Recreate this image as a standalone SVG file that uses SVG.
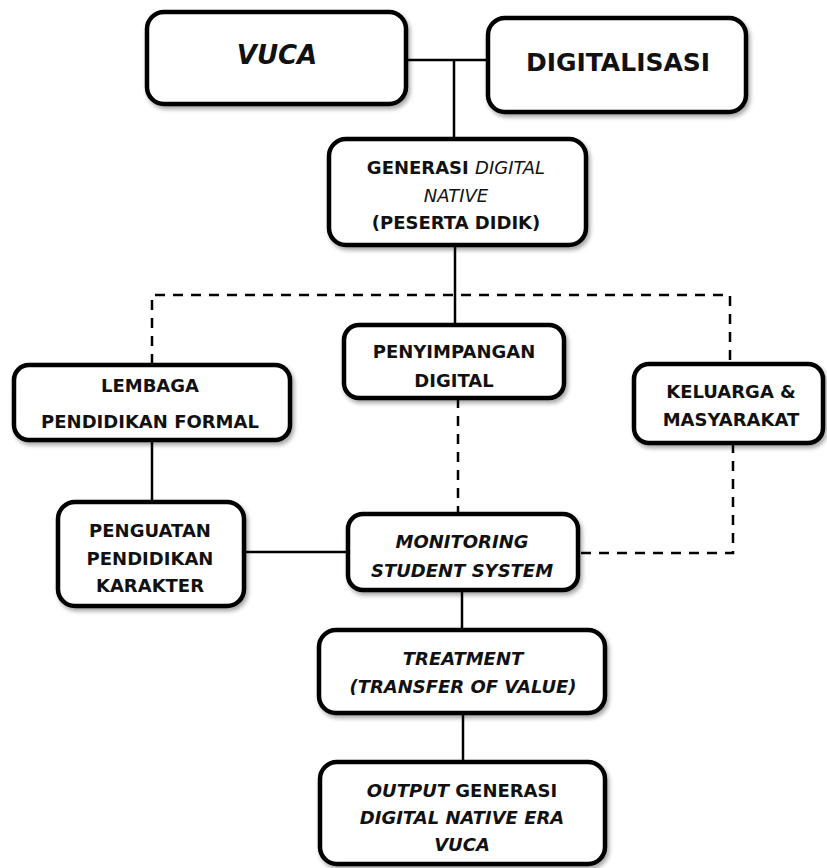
<svg xmlns="http://www.w3.org/2000/svg" width="827" height="868" viewBox="0 0 827 868">
<defs>
<filter id="sh" x="-10%" y="-10%" width="120%" height="130%">
<feDropShadow dx="2" dy="3" stdDeviation="2" flood-color="#000" flood-opacity="0.35"/>
</filter>
</defs>
<style>
.box{fill:#fff;stroke:#000;stroke-width:4.5;filter:url(#sh)}
.t{font-family:"DejaVu Sans",sans-serif;font-weight:bold;font-size:18px;text-anchor:middle;fill:#111}
.big{font-size:25px}
.v{font-size:26px}
.i{font-style:italic}
.n{font-weight:normal}
.solid{fill:none;stroke:#000;stroke-width:2.5}
.dash{fill:none;stroke:#000;stroke-width:2.5;stroke-dasharray:10 8}
</style>
<g id="connectors">
<path class="solid" d="M406 60 H488 M454 60 V139"/>
<path class="solid" d="M455 245 V325"/>
<path class="dash" d="M152 364 V295 H730 V363"/>
<path class="dash" d="M458 398 V514"/>
<path class="dash" d="M733 443 V553 H578"/>
<path class="solid" d="M152 440 V502"/>
<path class="solid" d="M244 552 H348"/>
<path class="solid" d="M462 590 V630"/>
<path class="solid" d="M463 713 V762"/>
</g>
<g id="vuca">
<rect class="box" x="147" y="12" width="259" height="92" rx="17"/>
<text class="t v i" x="277" y="64">VUCA</text>
</g>
<g id="digitalisasi">
<rect class="box" x="488" y="18" width="258" height="94" rx="17"/>
<text class="t big" x="618" y="71">DIGITALISASI</text>
</g>
<g id="generasi">
<rect class="box" x="329" y="139" width="257" height="106" rx="17"/>
<text class="t" x="456" y="174">GENERASI <tspan class="i n">DIGITAL</tspan></text>
<text class="t i n" x="456" y="202">NATIVE</text>
<text class="t" x="456" y="229">(PESERTA DIDIK)</text>
</g>
<g id="penyimpangan">
<rect class="box" x="344" y="325" width="220" height="73" rx="15"/>
<text class="t" x="454" y="358">PENYIMPANGAN</text>
<text class="t" x="454" y="387">DIGITAL</text>
</g>
<g id="lembaga">
<rect class="box" x="14" y="365" width="276" height="75" rx="15"/>
<text class="t" x="150" y="392">LEMBAGA</text>
<text class="t" x="150" y="428">PENDIDIKAN FORMAL</text>
</g>
<g id="keluarga">
<rect class="box" x="634" y="364" width="189" height="79" rx="15"/>
<text class="t" x="731" y="398">KELUARGA &amp;</text>
<text class="t" x="731" y="426">MASYARAKAT</text>
</g>
<g id="penguatan">
<rect class="box" x="58" y="502" width="186" height="104" rx="17"/>
<text class="t" x="150" y="537">PENGUATAN</text>
<text class="t" x="150" y="565">PENDIDIKAN</text>
<text class="t" x="150" y="592">KARAKTER</text>
</g>
<g id="monitoring">
<rect class="box" x="348" y="514" width="230" height="76" rx="15"/>
<text class="t i" x="462" y="548">MONITORING</text>
<text class="t i" x="462" y="577">STUDENT SYSTEM</text>
</g>
<g id="treatment">
<rect class="box" x="319" y="630" width="286" height="83" rx="17"/>
<text class="t i" x="463" y="665">TREATMENT</text>
<text class="t i" x="463" y="693">(TRANSFER OF VALUE)</text>
</g>
<g id="output">
<rect class="box" x="320" y="762" width="285" height="102" rx="17"/>
<text class="t" x="462" y="797"><tspan class="i">OUTPUT</tspan> GENERASI</text>
<text class="t i" x="462" y="824">DIGITAL NATIVE ERA</text>
<text class="t i" x="462" y="851">VUCA</text>
</g>
</svg>
